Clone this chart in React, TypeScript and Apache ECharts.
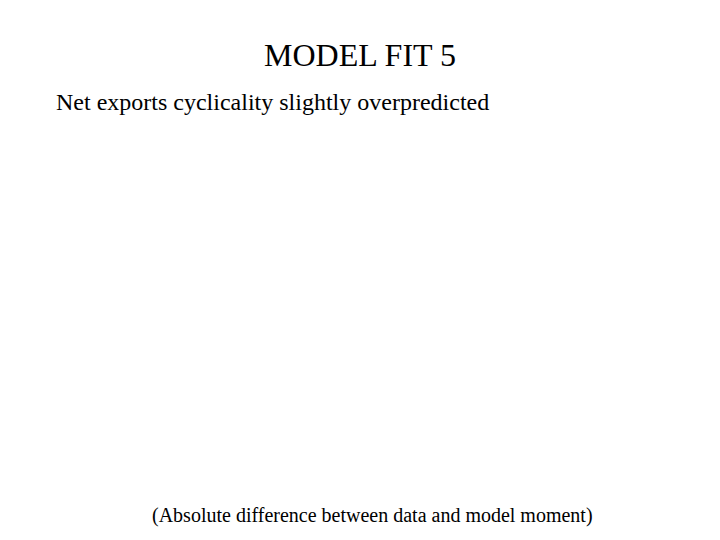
import {useEffect, useRef} from 'react';
import * as echarts from 'echarts';

const titleText = 'MODEL FIT 5';
const noteLines = ['Net exports cyclicality slightly overpredicted'];
const footerLines = ['(Absolute difference between data and model moment)'];

const FONT = '"Liberation Serif", "Times New Roman", serif';

export default function App() {
    const ref = useRef<HTMLDivElement | null>(null);

    useEffect(() => {
        if (!ref.current) return;
        const chart = echarts.init(ref.current, null, {renderer: 'svg'});
        chart.setOption({
            animation: false,
            backgroundColor: '#ffffff',
            graphic: [
                {
                    type: 'text', x: 360, y: 55,
                    style: {text: titleText, fill: '#000', font: `32px ${FONT}`, textAlign: 'center', textVerticalAlign: 'middle'}
                },
                ...noteLines.map((t, i) => ({
                    type: 'text', x: 56, y: 102 + i * 30,
                    style: {text: t, fill: '#000', font: `24px ${FONT}`, textAlign: 'left', textVerticalAlign: 'middle'}
                })),
                ...footerLines.map((t, i) => ({
                    type: 'text', x: 152, y: 515 + i * 26,
                    style: {text: t, fill: '#000', font: `20px ${FONT}`, textAlign: 'left', textVerticalAlign: 'middle'}
                }))
            ]
        });
        return () => chart.dispose();
    }, []);

    return <div ref={ref} style={{position: 'fixed', left: 0, top: 0, width: 720, height: 540}}/>;
}
